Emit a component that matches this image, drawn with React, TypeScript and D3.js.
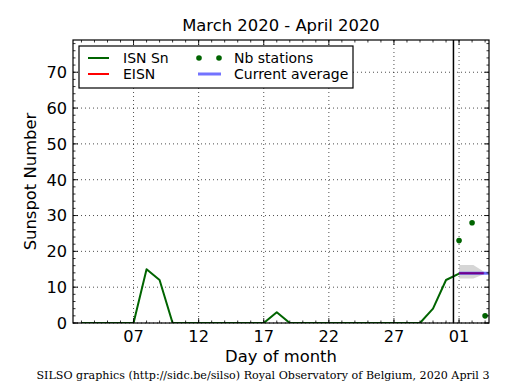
import React from 'react'
import * as d3 from 'd3'

// day numbers counted from March 1st (April 1 = 32)
const isnDays = [3, 4, 5, 6, 7, 8, 9, 10, 11, 12, 13, 14, 15, 16, 17, 18, 19, 20, 21, 22, 23, 24, 25, 26, 27, 28, 29, 30, 31, 32]
const isnValues = [0, 0, 0, 0, 0, 15, 12, 0, 0, 0, 0, 0, 0, 0, 0, 3, 0, 0, 0, 0, 0, 0, 0, 0, 0, 0, 0, 4, 12, 13.8]

const stationDays = [32, 33, 34]
const stationValues = [23, 28, 2]

const eisnDays = [32, 33.9]
const eisnValues = [13.9, 13.9]

const avgDays = [32, 35]
const avgValues = [13.9, 13.9]

// spread of the current average (low / high)
const bandDays = [32, 33.1, 34.1]
const bandLow = [12.4, 12.4, 13.9]
const bandHigh = [16.2, 16.2, 13.9]

const majorTickDays = [7, 12, 17, 22, 27, 32]
const yTicks = [0, 10, 20, 30, 40, 50, 60, 70]

const todayLine = 31.57
const xDomain = [2.35, 34.3]
const yDomain = [0, 79]

const title = 'March 2020 - April 2020'
const footer = 'SILSO graphics (http://sidc.be/silso) Royal Observatory of Belgium, 2020 April 3'

const width = 515
const height = 390
const margin = { top: 40, right: 26, bottom: 67, left: 73 }
const sans = 'DejaVu Sans, sans-serif'

function dayLabel(d: number) {
    const v = d > 31 ? d - 31 : d
    return v < 10 ? '0' + v : '' + v
}

export default function App() {
    const w = width - margin.left - margin.right
    const h = height - margin.top - margin.bottom

    const x = d3.scaleLinear().domain(xDomain).range([0, w])
    const y = d3.scaleLinear().domain(yDomain).range([h, 0])

    const line = d3.line<[number, number]>()
        .x(d => x(d[0]))
        .y(d => y(d[1]))

    const band = d3.area<number>()
        .x((d, i) => x(bandDays[i]))
        .y0((d, i) => y(bandLow[i]))
        .y1((d, i) => y(bandHigh[i]))

    const isnPts = isnDays.map((d, i) => [d, isnValues[i]] as [number, number])
    const eisnPts = eisnDays.map((d, i) => [d, eisnValues[i]] as [number, number])
    const avgPts = avgDays.map((d, i) => [d, avgValues[i]] as [number, number])

    const minorX = d3.range(Math.ceil(xDomain[0]), Math.floor(xDomain[1]) + 1)
    const minorY = d3.range(0, yDomain[1] + 0.1, 2)

    const grid = { stroke: '#000', strokeWidth: 0.7, strokeDasharray: '1,3' }
    const tick = { stroke: '#000', strokeWidth: 0.8 }

    return (
        <svg width={width} height={height} style={{ position: 'absolute', left: 0, top: 0, background: '#fff' }}>
            <defs>
                <clipPath id="plot-clip">
                    <rect x={0} y={0} width={w} height={h} />
                </clipPath>
            </defs>
            <rect x={0} y={0} width={width} height={height} fill="#fff" />
            <text x={margin.left + w / 2} y={31} textAnchor="middle" fontFamily={sans} fontSize={16.4}>{title}</text>

            <g transform={`translate(${margin.left},${margin.top})`}>
                {/* grid */}
                {majorTickDays.map(d => (
                    <line key={'gx' + d} x1={x(d)} x2={x(d)} y1={0} y2={h} {...grid} />
                ))}
                {yTicks.map(v => (
                    <line key={'gy' + v} x1={0} x2={w} y1={y(v)} y2={y(v)} {...grid} />
                ))}

                <g clipPath="url(#plot-clip)">
                    <path d={band(bandDays) || ''} fill="#bbbbbb" opacity={0.6} />
                    <path d={line(eisnPts) || ''} fill="none" stroke="#ff0000" strokeWidth={2} />
                    <path d={line(avgPts) || ''} fill="none" stroke="#0000ff" strokeOpacity={0.55} strokeWidth={3} />
                    <path d={line(isnPts) || ''} fill="none" stroke="#006400" strokeWidth={2} strokeLinejoin="round" />
                    {stationDays.map((d, i) => (
                        <circle key={'st' + d} cx={x(d)} cy={y(stationValues[i])} r={2.8} fill="#006400" />
                    ))}
                </g>

                <line x1={x(todayLine)} x2={x(todayLine)} y1={0} y2={h} stroke="#000" strokeWidth={1.5} />

                {/* ticks, inward on all four sides */}
                {minorX.map(d => (
                    <g key={'tx' + d}>
                        <line x1={x(d)} x2={x(d)} y1={h} y2={h - 2.5} {...tick} />
                        <line x1={x(d)} x2={x(d)} y1={0} y2={2.5} {...tick} />
                    </g>
                ))}
                {majorTickDays.map(d => (
                    <g key={'mx' + d}>
                        <line x1={x(d)} x2={x(d)} y1={h} y2={h - 5} {...tick} />
                        <line x1={x(d)} x2={x(d)} y1={0} y2={5} {...tick} />
                        <text x={x(d)} y={h + 19} textAnchor="middle" fontFamily={sans} fontSize={16.2}>{dayLabel(d)}</text>
                    </g>
                ))}
                {minorY.map(v => (
                    <g key={'ty' + v}>
                        <line x1={0} x2={2.5} y1={y(v)} y2={y(v)} {...tick} />
                        <line x1={w} x2={w - 2.5} y1={y(v)} y2={y(v)} {...tick} />
                    </g>
                ))}
                {yTicks.map(v => (
                    <g key={'my' + v}>
                        <line x1={0} x2={5} y1={y(v)} y2={y(v)} {...tick} />
                        <line x1={w} x2={w - 5} y1={y(v)} y2={y(v)} {...tick} />
                        <text x={-6} y={y(v)} dy="0.36em" textAnchor="end" fontFamily={sans} fontSize={16.2}>{v}</text>
                    </g>
                ))}

                <rect x={0} y={0} width={w} height={h} fill="none" stroke="#000" strokeWidth={1.2} />

                {/* legend */}
                <g transform="translate(6,6)">
                    <rect x={0} y={0} width={274} height={42} fill="#fff" stroke="#000" strokeWidth={1.2} />
                    <line x1={9} x2={30} y1={12} y2={12} stroke="#006400" strokeWidth={2} />
                    <text x={44} y={12} dy="0.36em" fontFamily={sans} fontSize={14}>ISN Sn</text>
                    <line x1={9} x2={30} y1={28} y2={28} stroke="#ff0000" strokeWidth={2} />
                    <text x={44} y={28} dy="0.36em" fontFamily={sans} fontSize={14}>EISN</text>
                    <circle cx={120} cy={12} r={2.8} fill="#006400" />
                    <circle cx={140} cy={12} r={2.8} fill="#006400" />
                    <text x={155} y={12} dy="0.36em" fontFamily={sans} fontSize={14}>Nb stations</text>
                    <line x1={119} x2={142} y1={28} y2={28} stroke="#0000ff" strokeOpacity={0.55} strokeWidth={3} />
                    <text x={155} y={28} dy="0.36em" fontFamily={sans} fontSize={14}>Current average</text>
                </g>
            </g>

            <text transform={`translate(36,${margin.top + h / 2}) rotate(-90)`} textAnchor="middle" fontFamily={sans} fontSize={16.4}>Sunspot Number</text>
            <text x={margin.left + w / 2} y={362} textAnchor="middle" fontFamily={sans} fontSize={16.4}>Day of month</text>
            <text x={36.5} y={378.5} textLength={453} lengthAdjust="spacingAndGlyphs" fontFamily="DejaVu Serif, serif" fontSize={11}>{footer}</text>
        </svg>
    )
}
